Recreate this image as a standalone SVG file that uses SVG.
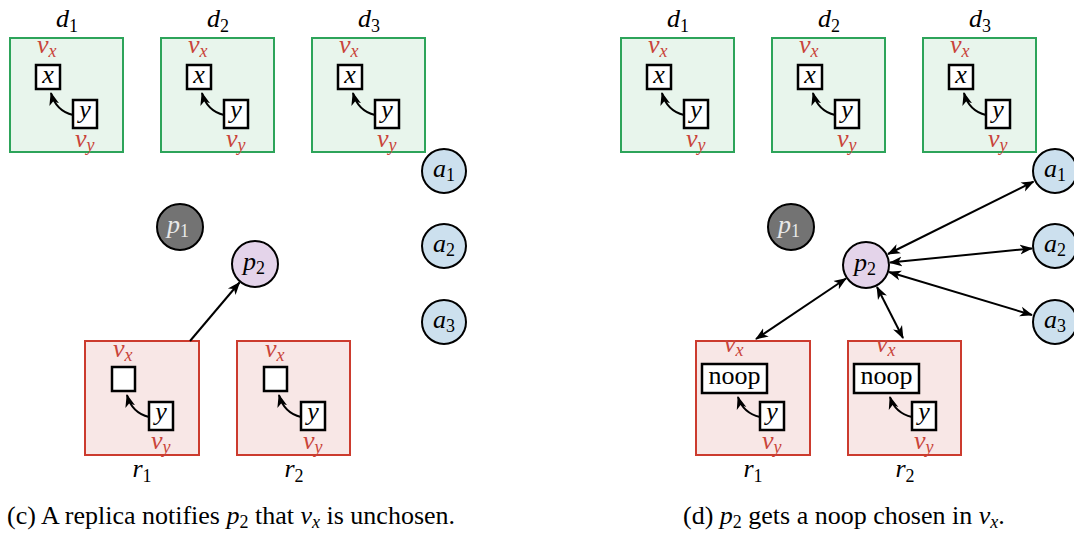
<svg xmlns="http://www.w3.org/2000/svg" width="1074" height="535" viewBox="0 0 1074 535">
  <style>
    text { font-family: "Liberation Serif", "Times New Roman", "DejaVu Serif", serif; fill: #000; }
    .it { font-style: italic; }
    .lbl { font-size: 26px; }
    .sub { font-size: 18px; }
    .red { fill: #c9443a; }
    .dbox { fill: #e8f5ec; stroke: #2da45a; stroke-width: 2; }
    .rbox { fill: #f8e7e6; stroke: #cc3b2e; stroke-width: 2; }
    .cell { fill: #fff; stroke: #000; stroke-width: 2.5; }
    .circ { stroke: #000; stroke-width: 2; }
    .p1 { fill: #737373; }
    .p2 { fill: #e4d4ea; }
    .acc { fill: #cce0ee; }
    .edge { stroke: #000; stroke-width: 2; fill: none; }
    .dep { stroke: #000; stroke-width: 2; fill: none; marker-end: url(#head); }
    .cap { font-size: 26px; }
  </style>
  <defs>
    <marker id="head" markerUnits="userSpaceOnUse" markerWidth="14" markerHeight="12" refX="12" refY="5" orient="auto-start-reverse" viewBox="0 0 14 10">
      <path d="M0,0 L13,5 L0,10 L3.5,5 z" fill="#000"/>
    </marker>
  </defs>

  <!-- ===================== left panel (c) ===================== -->
  <g id="c-d1" transform="translate(10,38)">
    <text class="lbl" x="57" y="-11" text-anchor="middle"><tspan class="it">d</tspan><tspan class="sub" dy="5">1</tspan></text>
    <rect class="dbox" x="0" y="0" width="113" height="114"/>
    <text class="lbl red" x="27" y="15"><tspan class="it">v</tspan><tspan class="sub it" dy="4">x</tspan></text>
    <rect class="cell" x="26" y="27" width="24" height="24"/>
    <text class="lbl it" x="38" y="45" text-anchor="middle">x</text>
    <rect class="cell" x="63" y="62" width="24" height="28"/>
    <text class="lbl it" x="75" y="80" text-anchor="middle">y</text>
    <path class="dep" d="M63,77 Q46,73 41,55"/>
    <text class="lbl red" x="65" y="109"><tspan class="it">v</tspan><tspan class="sub it" dy="4">y</tspan></text>
  </g>
  <g id="c-d2" transform="translate(161,38)">
    <text class="lbl" x="57" y="-11" text-anchor="middle"><tspan class="it">d</tspan><tspan class="sub" dy="5">2</tspan></text>
    <rect class="dbox" x="0" y="0" width="113" height="114"/>
    <text class="lbl red" x="27" y="15"><tspan class="it">v</tspan><tspan class="sub it" dy="4">x</tspan></text>
    <rect class="cell" x="26" y="27" width="24" height="24"/>
    <text class="lbl it" x="38" y="45" text-anchor="middle">x</text>
    <rect class="cell" x="63" y="62" width="24" height="28"/>
    <text class="lbl it" x="75" y="80" text-anchor="middle">y</text>
    <path class="dep" d="M63,77 Q46,73 41,55"/>
    <text class="lbl red" x="65" y="109"><tspan class="it">v</tspan><tspan class="sub it" dy="4">y</tspan></text>
  </g>
  <g id="c-d3" transform="translate(312,38)">
    <text class="lbl" x="57" y="-11" text-anchor="middle"><tspan class="it">d</tspan><tspan class="sub" dy="5">3</tspan></text>
    <rect class="dbox" x="0" y="0" width="113" height="114"/>
    <text class="lbl red" x="27" y="15"><tspan class="it">v</tspan><tspan class="sub it" dy="4">x</tspan></text>
    <rect class="cell" x="26" y="27" width="24" height="24"/>
    <text class="lbl it" x="38" y="45" text-anchor="middle">x</text>
    <rect class="cell" x="63" y="62" width="24" height="28"/>
    <text class="lbl it" x="75" y="80" text-anchor="middle">y</text>
    <path class="dep" d="M63,77 Q46,73 41,55"/>
    <text class="lbl red" x="65" y="109"><tspan class="it">v</tspan><tspan class="sub it" dy="4">y</tspan></text>
  </g>

  <g id="c-p1" transform="translate(180,227)">
    <circle class="circ p1" r="23"/>
    <text class="lbl" x="-2" y="6" text-anchor="middle" style="fill:#e8e8e8"><tspan class="it">p</tspan><tspan class="sub" dy="4">1</tspan></text>
  </g>
  <g id="c-p2" transform="translate(255,264)">
    <circle class="circ p2" r="23"/>
    <text class="lbl" x="-1" y="6" text-anchor="middle"><tspan class="it">p</tspan><tspan class="sub" dy="4">2</tspan></text>
  </g>
  <g id="c-a1" transform="translate(444,171)">
    <circle class="circ acc" r="22"/>
    <text class="lbl" x="0" y="6" text-anchor="middle"><tspan class="it">a</tspan><tspan class="sub" dy="4">1</tspan></text>
  </g>
  <g id="c-a2" transform="translate(444,246)">
    <circle class="circ acc" r="22"/>
    <text class="lbl" x="0" y="6" text-anchor="middle"><tspan class="it">a</tspan><tspan class="sub" dy="4">2</tspan></text>
  </g>
  <g id="c-a3" transform="translate(444,322)">
    <circle class="circ acc" r="22"/>
    <text class="lbl" x="0" y="6" text-anchor="middle"><tspan class="it">a</tspan><tspan class="sub" dy="4">3</tspan></text>
  </g>

  <g id="c-r1" transform="translate(85,341)">
    <rect class="rbox" x="0" y="0" width="114" height="114"/>
    <text class="lbl red" x="28" y="16"><tspan class="it">v</tspan><tspan class="sub it" dy="4">x</tspan></text>
    <rect class="cell" x="27" y="26" width="23" height="24"/>
    <rect class="cell" x="64" y="61" width="24" height="28"/>
    <text class="lbl it" x="76" y="79" text-anchor="middle">y</text>
    <path class="dep" d="M64,76 Q47,72 42,54"/>
    <text class="lbl red" x="66" y="108"><tspan class="it">v</tspan><tspan class="sub it" dy="4">y</tspan></text>
    <text class="lbl" x="57" y="136" text-anchor="middle"><tspan class="it">r</tspan><tspan class="sub" dy="5">1</tspan></text>
  </g>
  <g id="c-r2" transform="translate(237,341)">
    <rect class="rbox" x="0" y="0" width="113" height="114"/>
    <text class="lbl red" x="28" y="16"><tspan class="it">v</tspan><tspan class="sub it" dy="4">x</tspan></text>
    <rect class="cell" x="27" y="26" width="23" height="24"/>
    <rect class="cell" x="64" y="61" width="24" height="28"/>
    <text class="lbl it" x="76" y="79" text-anchor="middle">y</text>
    <path class="dep" d="M64,76 Q47,72 42,54"/>
    <text class="lbl red" x="66" y="108"><tspan class="it">v</tspan><tspan class="sub it" dy="4">y</tspan></text>
    <text class="lbl" x="57" y="136" text-anchor="middle"><tspan class="it">r</tspan><tspan class="sub" dy="5">2</tspan></text>
  </g>

  <g id="c-edges">
    <line class="edge" x1="190" y1="341" x2="239.5" y2="282.5" marker-end="url(#head)"/>
  </g>

  <text class="cap" x="7" y="524">(c) A replica notifies <tspan class="it">p</tspan><tspan font-size="18" dy="4">2</tspan><tspan dy="-4"> that </tspan><tspan class="it">v</tspan><tspan class="it" font-size="18" dy="4">x</tspan><tspan dy="-4"> is unchosen.</tspan></text>

  <!-- ===================== right panel (d) ===================== -->
  <g id="d-d1" transform="translate(621,38)">
    <text class="lbl" x="57" y="-11" text-anchor="middle"><tspan class="it">d</tspan><tspan class="sub" dy="5">1</tspan></text>
    <rect class="dbox" x="0" y="0" width="113" height="114"/>
    <text class="lbl red" x="27" y="15"><tspan class="it">v</tspan><tspan class="sub it" dy="4">x</tspan></text>
    <rect class="cell" x="26" y="27" width="24" height="24"/>
    <text class="lbl it" x="38" y="45" text-anchor="middle">x</text>
    <rect class="cell" x="63" y="62" width="24" height="28"/>
    <text class="lbl it" x="75" y="80" text-anchor="middle">y</text>
    <path class="dep" d="M63,77 Q46,73 41,55"/>
    <text class="lbl red" x="65" y="109"><tspan class="it">v</tspan><tspan class="sub it" dy="4">y</tspan></text>
  </g>
  <g id="d-d2" transform="translate(772,38)">
    <text class="lbl" x="57" y="-11" text-anchor="middle"><tspan class="it">d</tspan><tspan class="sub" dy="5">2</tspan></text>
    <rect class="dbox" x="0" y="0" width="113" height="114"/>
    <text class="lbl red" x="27" y="15"><tspan class="it">v</tspan><tspan class="sub it" dy="4">x</tspan></text>
    <rect class="cell" x="26" y="27" width="24" height="24"/>
    <text class="lbl it" x="38" y="45" text-anchor="middle">x</text>
    <rect class="cell" x="63" y="62" width="24" height="28"/>
    <text class="lbl it" x="75" y="80" text-anchor="middle">y</text>
    <path class="dep" d="M63,77 Q46,73 41,55"/>
    <text class="lbl red" x="65" y="109"><tspan class="it">v</tspan><tspan class="sub it" dy="4">y</tspan></text>
  </g>
  <g id="d-d3" transform="translate(923,38)">
    <text class="lbl" x="57" y="-11" text-anchor="middle"><tspan class="it">d</tspan><tspan class="sub" dy="5">3</tspan></text>
    <rect class="dbox" x="0" y="0" width="113" height="114"/>
    <text class="lbl red" x="27" y="15"><tspan class="it">v</tspan><tspan class="sub it" dy="4">x</tspan></text>
    <rect class="cell" x="26" y="27" width="24" height="24"/>
    <text class="lbl it" x="38" y="45" text-anchor="middle">x</text>
    <rect class="cell" x="63" y="62" width="24" height="28"/>
    <text class="lbl it" x="75" y="80" text-anchor="middle">y</text>
    <path class="dep" d="M63,77 Q46,73 41,55"/>
    <text class="lbl red" x="65" y="109"><tspan class="it">v</tspan><tspan class="sub it" dy="4">y</tspan></text>
  </g>

  <g id="d-p1" transform="translate(791,227)">
    <circle class="circ p1" r="23"/>
    <text class="lbl" x="-2" y="6" text-anchor="middle" style="fill:#e8e8e8"><tspan class="it">p</tspan><tspan class="sub" dy="4">1</tspan></text>
  </g>
  <g id="d-p2" transform="translate(866,265)">
    <circle class="circ p2" r="23"/>
    <text class="lbl" x="-1" y="6" text-anchor="middle"><tspan class="it">p</tspan><tspan class="sub" dy="4">2</tspan></text>
  </g>
  <g id="d-a1" transform="translate(1055,171)">
    <circle class="circ acc" r="22"/>
    <text class="lbl" x="0" y="6" text-anchor="middle"><tspan class="it">a</tspan><tspan class="sub" dy="4">1</tspan></text>
  </g>
  <g id="d-a2" transform="translate(1055,246)">
    <circle class="circ acc" r="22"/>
    <text class="lbl" x="0" y="6" text-anchor="middle"><tspan class="it">a</tspan><tspan class="sub" dy="4">2</tspan></text>
  </g>
  <g id="d-a3" transform="translate(1055,322)">
    <circle class="circ acc" r="22"/>
    <text class="lbl" x="0" y="6" text-anchor="middle"><tspan class="it">a</tspan><tspan class="sub" dy="4">3</tspan></text>
  </g>

  <g id="d-r1" transform="translate(696,341)">
    <rect class="rbox" x="0" y="0" width="114" height="114"/>
    <text class="lbl red" x="28" y="11"><tspan class="it">v</tspan><tspan class="sub it" dy="4">x</tspan></text>
    <rect class="cell" x="6" y="23" width="65" height="29"/>
    <text class="lbl" x="38.5" y="43" text-anchor="middle">noop</text>
    <rect class="cell" x="64" y="61" width="24" height="28"/>
    <text class="lbl it" x="76" y="79" text-anchor="middle">y</text>
    <path class="dep" d="M64,76 Q47,72 42,56"/>
    <text class="lbl red" x="66" y="108"><tspan class="it">v</tspan><tspan class="sub it" dy="4">y</tspan></text>
    <text class="lbl" x="57" y="136" text-anchor="middle"><tspan class="it">r</tspan><tspan class="sub" dy="5">1</tspan></text>
  </g>
  <g id="d-r2" transform="translate(848,341)">
    <rect class="rbox" x="0" y="0" width="113" height="114"/>
    <text class="lbl red" x="28" y="11"><tspan class="it">v</tspan><tspan class="sub it" dy="4">x</tspan></text>
    <rect class="cell" x="6" y="23" width="65" height="29"/>
    <text class="lbl" x="38.5" y="43" text-anchor="middle">noop</text>
    <rect class="cell" x="64" y="61" width="24" height="28"/>
    <text class="lbl it" x="76" y="79" text-anchor="middle">y</text>
    <path class="dep" d="M64,76 Q47,72 42,56"/>
    <text class="lbl red" x="66" y="108"><tspan class="it">v</tspan><tspan class="sub it" dy="4">y</tspan></text>
    <text class="lbl" x="57" y="136" text-anchor="middle"><tspan class="it">r</tspan><tspan class="sub" dy="5">2</tspan></text>
  </g>

  <g id="d-edges">
    <line class="edge" x1="888" y1="254" x2="1033.5" y2="181.7" marker-start="url(#head)" marker-end="url(#head)"/>
    <line class="edge" x1="890" y1="262.6" x2="1032" y2="248.4" marker-start="url(#head)" marker-end="url(#head)"/>
    <line class="edge" x1="889" y1="272" x2="1032" y2="315" marker-start="url(#head)" marker-end="url(#head)"/>
    <line class="edge" x1="846" y1="278.5" x2="756" y2="339" marker-start="url(#head)" marker-end="url(#head)"/>
    <line class="edge" x1="877" y1="287" x2="903" y2="338" marker-start="url(#head)" marker-end="url(#head)"/>
  </g>

  <text class="cap" x="683" y="524">(d) <tspan class="it">p</tspan><tspan font-size="18" dy="4">2</tspan><tspan dy="-4"> gets a noop chosen in </tspan><tspan class="it">v</tspan><tspan class="it" font-size="18" dy="4">x</tspan><tspan dy="-4">.</tspan></text>
</svg>
